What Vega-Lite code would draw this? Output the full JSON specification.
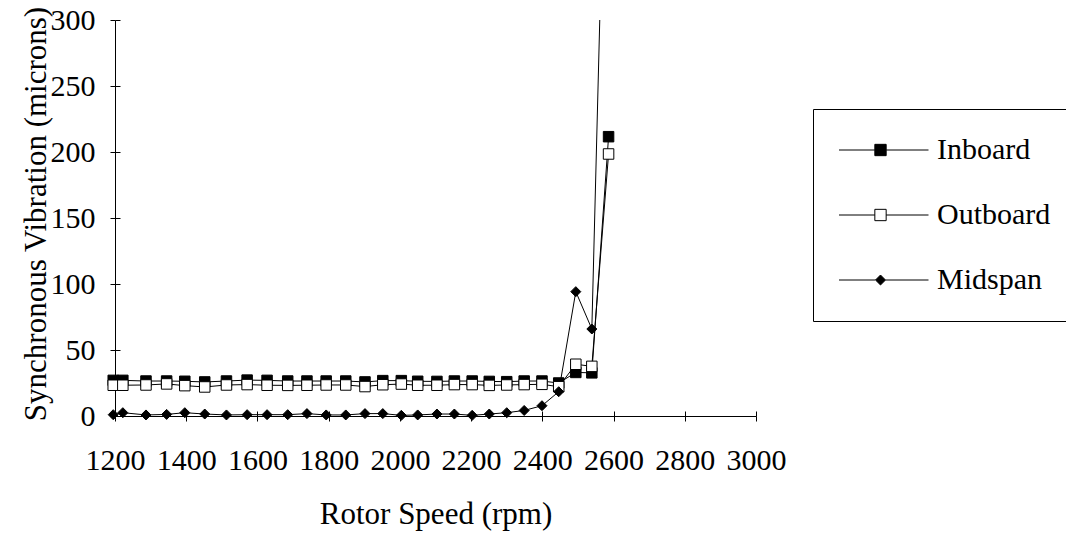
{
  "$schema": "https://vega.github.io/schema/vega-lite/v6.json",
  "width": 641,
  "height": 396,
  "autosize": {"type": "none"},
  "padding": {"left": 115, "top": 20, "right": 310, "bottom": 117},
  "background": "white",
  "config": {
    "view": {"stroke": null},
    "font": "Liberation Serif, Times New Roman, serif",
    "axis": {
      "domainColor": "black",
      "domainWidth": 1,
      "tickColor": "black",
      "tickWidth": 1,
      "tickSize": 5,
      "ticks": true,
      "labelColor": "black",
      "labelFont": "Liberation Serif, Times New Roman, serif",
      "labelFontSize": 30,
      "labelFlush": false,
      "labelOverlap": false,
      "titleColor": "black",
      "titleFont": "Liberation Serif, Times New Roman, serif",
      "titleFontSize": 31,
      "titleFontWeight": "normal",
      "grid": true,
      "gridColor": "black",
      "gridOpacity": 1,
      "gridWidth": 1,
      "gridDash": [5, 3000]
    },
    "legend": {
      "labelFont": "Liberation Serif, Times New Roman, serif"
    }
  },
  "datasets": {
    "vib": [
      {"rpm": 1195, "series": "Inboard", "v": 27},
      {"rpm": 1222, "series": "Inboard", "v": 27},
      {"rpm": 1287, "series": "Inboard", "v": 26.5},
      {"rpm": 1345, "series": "Inboard", "v": 26.5},
      {"rpm": 1396, "series": "Inboard", "v": 26.3},
      {"rpm": 1452, "series": "Inboard", "v": 25.8},
      {"rpm": 1513, "series": "Inboard", "v": 26.5},
      {"rpm": 1571, "series": "Inboard", "v": 27.2},
      {"rpm": 1627, "series": "Inboard", "v": 27},
      {"rpm": 1685, "series": "Inboard", "v": 26.5},
      {"rpm": 1739, "series": "Inboard", "v": 26.5},
      {"rpm": 1793, "series": "Inboard", "v": 26.5},
      {"rpm": 1848, "series": "Inboard", "v": 26.5},
      {"rpm": 1902, "series": "Inboard", "v": 25.8},
      {"rpm": 1952, "series": "Inboard", "v": 26.8},
      {"rpm": 2004, "series": "Inboard", "v": 26.8},
      {"rpm": 2050, "series": "Inboard", "v": 26.3},
      {"rpm": 2104, "series": "Inboard", "v": 26.2},
      {"rpm": 2153, "series": "Inboard", "v": 26.5},
      {"rpm": 2203, "series": "Inboard", "v": 26.5},
      {"rpm": 2251, "series": "Inboard", "v": 26.2},
      {"rpm": 2300, "series": "Inboard", "v": 26},
      {"rpm": 2349, "series": "Inboard", "v": 26.5},
      {"rpm": 2399, "series": "Inboard", "v": 26.5},
      {"rpm": 2446, "series": "Inboard", "v": 25},
      {"rpm": 2494, "series": "Inboard", "v": 33},
      {"rpm": 2539, "series": "Inboard", "v": 32.7},
      {"rpm": 2586, "series": "Inboard", "v": 211.6},
      {"rpm": 1195, "series": "Outboard", "v": 23.3},
      {"rpm": 1222, "series": "Outboard", "v": 23.3},
      {"rpm": 1287, "series": "Outboard", "v": 23.5},
      {"rpm": 1345, "series": "Outboard", "v": 24.3},
      {"rpm": 1396, "series": "Outboard", "v": 23},
      {"rpm": 1452, "series": "Outboard", "v": 22},
      {"rpm": 1513, "series": "Outboard", "v": 23.5},
      {"rpm": 1571, "series": "Outboard", "v": 23.8},
      {"rpm": 1627, "series": "Outboard", "v": 23.3},
      {"rpm": 1685, "series": "Outboard", "v": 23.2},
      {"rpm": 1739, "series": "Outboard", "v": 23.3},
      {"rpm": 1793, "series": "Outboard", "v": 23.5},
      {"rpm": 1848, "series": "Outboard", "v": 23.5},
      {"rpm": 1902, "series": "Outboard", "v": 22.3},
      {"rpm": 1952, "series": "Outboard", "v": 23.7},
      {"rpm": 2004, "series": "Outboard", "v": 24.2},
      {"rpm": 2050, "series": "Outboard", "v": 23.3},
      {"rpm": 2104, "series": "Outboard", "v": 23.3},
      {"rpm": 2153, "series": "Outboard", "v": 23.8},
      {"rpm": 2203, "series": "Outboard", "v": 23.8},
      {"rpm": 2251, "series": "Outboard", "v": 23.2},
      {"rpm": 2300, "series": "Outboard", "v": 23.5},
      {"rpm": 2349, "series": "Outboard", "v": 23.8},
      {"rpm": 2399, "series": "Outboard", "v": 24},
      {"rpm": 2446, "series": "Outboard", "v": 22.2},
      {"rpm": 2494, "series": "Outboard", "v": 39.2},
      {"rpm": 2539, "series": "Outboard", "v": 37.6},
      {"rpm": 2586, "series": "Outboard", "v": 198.5},
      {"rpm": 1195, "series": "Midspan", "v": 1},
      {"rpm": 1222, "series": "Midspan", "v": 2.5},
      {"rpm": 1287, "series": "Midspan", "v": 0.8},
      {"rpm": 1345, "series": "Midspan", "v": 1.2},
      {"rpm": 1396, "series": "Midspan", "v": 2.5},
      {"rpm": 1452, "series": "Midspan", "v": 1.5},
      {"rpm": 1513, "series": "Midspan", "v": 0.8},
      {"rpm": 1571, "series": "Midspan", "v": 1},
      {"rpm": 1627, "series": "Midspan", "v": 1},
      {"rpm": 1685, "series": "Midspan", "v": 1},
      {"rpm": 1739, "series": "Midspan", "v": 1.8},
      {"rpm": 1793, "series": "Midspan", "v": 0.8},
      {"rpm": 1848, "series": "Midspan", "v": 0.8},
      {"rpm": 1902, "series": "Midspan", "v": 1.8},
      {"rpm": 1952, "series": "Midspan", "v": 1.8},
      {"rpm": 2004, "series": "Midspan", "v": 0.5},
      {"rpm": 2050, "series": "Midspan", "v": 0.8},
      {"rpm": 2104, "series": "Midspan", "v": 1.5},
      {"rpm": 2153, "series": "Midspan", "v": 1.5},
      {"rpm": 2203, "series": "Midspan", "v": 0.5},
      {"rpm": 2251, "series": "Midspan", "v": 1.5},
      {"rpm": 2300, "series": "Midspan", "v": 2.5},
      {"rpm": 2349, "series": "Midspan", "v": 4.2},
      {"rpm": 2399, "series": "Midspan", "v": 7.8},
      {"rpm": 2446, "series": "Midspan", "v": 18.4},
      {"rpm": 2494, "series": "Midspan", "v": 94.2},
      {"rpm": 2539, "series": "Midspan", "v": 65.9},
      {"rpm": 2586, "series": "Midspan", "v": 560}
    ]
  },
  "data": {"name": "vib"},
  "encoding": {
    "x": {
      "field": "rpm",
      "type": "quantitative",
      "scale": {"domain": [1200, 3000], "nice": false, "zero": false},
      "axis": {
        "values": [1200, 1400, 1600, 1800, 2000, 2200, 2400, 2600, 2800, 3000],
        "format": "d",
        "labelPadding": 24,
        "gridDashOffset": 2614,
        "title": "Rotor Speed (rpm)",
        "titleBaseline": "alphabetic",
        "titleY": 107
      }
    },
    "y": {
      "field": "v",
      "type": "quantitative",
      "scale": {"domain": [0, 300], "nice": false},
      "axis": {
        "values": [0, 50, 100, 150, 200, 250, 300],
        "labelPadding": 15,
        "title": "Synchronous Vibration (microns)",
        "titleBaseline": "alphabetic",
        "titleX": -70,
        "titleY": 193.5
      }
    }
  },
  "layer": [
    {
      "mark": {"type": "line", "color": "black", "strokeWidth": 1, "clip": true},
      "encoding": {"detail": {"field": "series"}}
    },
    {
      "transform": [{"filter": "datum.series === 'Inboard'"}],
      "mark": {"type": "point", "shape": "square", "filled": true, "fill": "black", "stroke": "black", "strokeWidth": 1, "size": 110, "opacity": 1}
    },
    {
      "transform": [{"filter": "datum.series === 'Outboard'"}],
      "mark": {"type": "point", "shape": "square", "filled": true, "fill": "white", "stroke": "black", "strokeWidth": 1, "size": 110, "opacity": 1}
    },
    {
      "transform": [{"filter": "datum.series === 'Midspan'"}],
      "mark": {"type": "point", "shape": "diamond", "filled": true, "fill": "black", "stroke": "black", "strokeWidth": 1, "size": 100, "opacity": 1}
    },
    {
      "transform": [{"filter": "datum.v < -1000"}],
      "mark": {"type": "point", "filled": true, "opacity": 1, "strokeWidth": 1},
      "encoding": {
        "shape": {
          "field": "series",
          "scale": {
            "domain": ["Inboard", "Outboard", "Midspan"],
            "range": [
              "M-1,0H-0.118M0.118,0H1M-0.118,-0.118H0.118V0.118H-0.118Z",
              "M-1,0H-0.118M0.118,0H1M-0.118,-0.118H0.118V0.118H-0.118Z",
              "M-1,0H-0.104M0.104,0H1M0,-0.104L0.104,0L0,0.104L-0.104,0Z"
            ]
          },
          "legend": {
            "orient": "none",
            "legendX": 698,
            "legendY": 89,
            "title": null,
            "strokeColor": "black",
            "fillColor": "white",
            "padding": 26,
            "labelFont": "Liberation Serif, Times New Roman, serif",
            "labelFontSize": 30,
            "labelColor": "black",
            "labelOffset": 8,
            "symbolOffset": -7,
            "clipHeight": 30,
            "rowPadding": 35,
            "symbolStrokeColor": "black",
            "symbolStrokeWidth": 1,
            "symbolSize": 9216
          }
        },
        "fill": {
          "field": "series",
          "scale": {"domain": ["Inboard", "Outboard", "Midspan"], "range": ["black", "white", "black"]},
          "legend": {
            "orient": "none",
            "legendX": 698,
            "legendY": 89,
            "title": null,
            "strokeColor": "black",
            "fillColor": "white",
            "padding": 26,
            "labelFont": "Liberation Serif, Times New Roman, serif",
            "labelFontSize": 30,
            "labelColor": "black",
            "labelOffset": 8,
            "symbolOffset": -7,
            "clipHeight": 30,
            "rowPadding": 35,
            "symbolStrokeColor": "black",
            "symbolStrokeWidth": 1,
            "symbolSize": 9216
          }
        },
        "stroke": {
          "field": "series",
          "scale": {"domain": ["Inboard", "Outboard", "Midspan"], "range": ["black", "black", "black"]},
          "legend": {
            "orient": "none",
            "legendX": 698,
            "legendY": 89,
            "title": null,
            "strokeColor": "black",
            "fillColor": "white",
            "padding": 26,
            "labelFont": "Liberation Serif, Times New Roman, serif",
            "labelFontSize": 30,
            "labelColor": "black",
            "labelOffset": 8,
            "symbolOffset": -7,
            "clipHeight": 30,
            "rowPadding": 35,
            "symbolStrokeColor": "black",
            "symbolStrokeWidth": 1,
            "symbolSize": 9216
          }
        }
      }
    }
  ]
}
